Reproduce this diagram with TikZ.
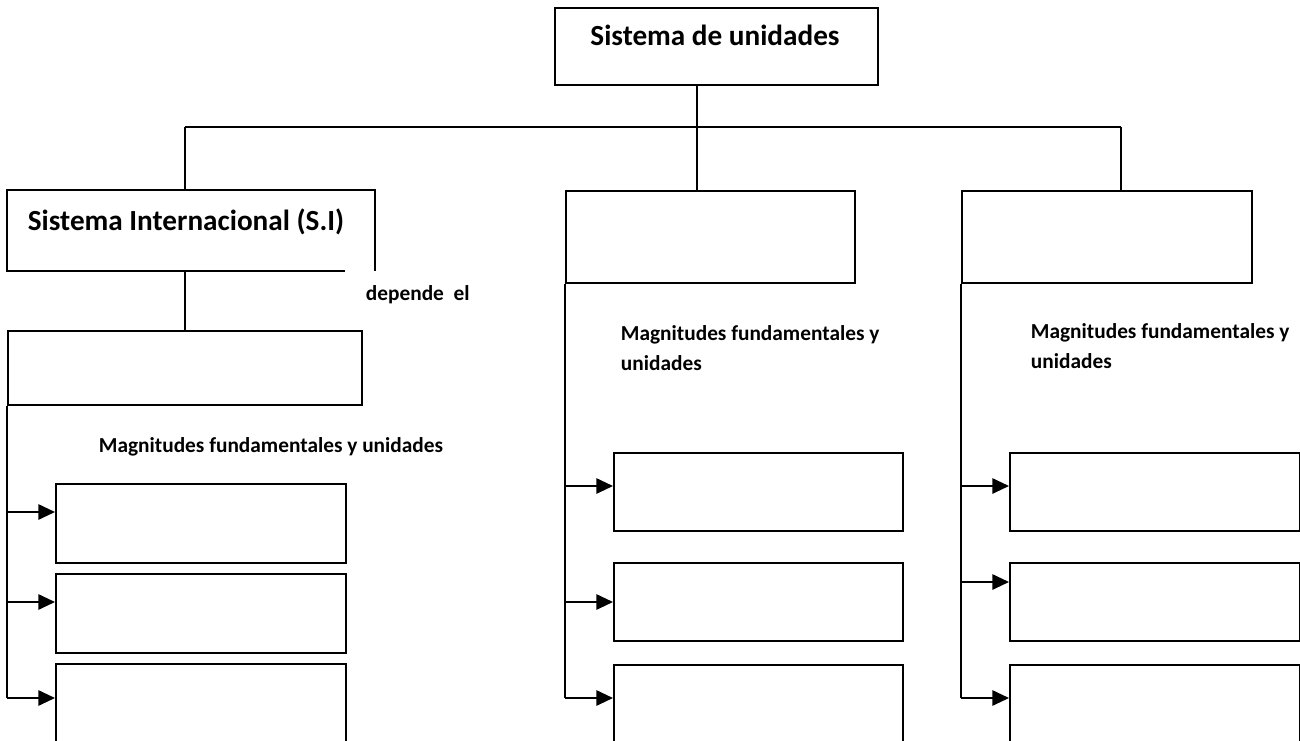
\documentclass[tikz,border=0pt]{standalone}
\usepackage{fontspec}
\setmainfont{Carlito}
\usetikzlibrary{arrows.meta}

\begin{document}
\begin{tikzpicture}
  [x=0.75pt,y=-0.75pt,line width=1.4pt,
   caja/.style 2 args={draw,rectangle,anchor=north west,inner sep=0pt,
     minimum width=#1*0.75pt,minimum height=#2*0.75pt},
   titulo/.style={font=\bfseries\fontsize{21.9}{26}\selectfont,inner sep=0pt},
   texto/.style={font=\bfseries\fontsize{16}{22.5}\selectfont,inner sep=0pt,align=left},
   flecha/.style={-{Triangle[length=12.5pt,width=11.5pt]}}]
  \useasboundingbox (0,0) rectangle (1300,740);
  \clip (0,0) rectangle (1300,740);

  % cajas
  \node[caja={323}{77}] (sistema) at (554,7) {};
  \node[caja={366}{79},draw=none] (si) at (7,190) {};
  \node[caja={354}{74}] (dep) at (7,330) {};
  \node[caja={289}{92}] (centro) at (565,190) {};
  \node[caja={290}{92}] (derecha) at (961,190) {};

  \node[caja={290}{79}] (s1) at (55,483) {};
  \node[caja={290}{79}] (s2) at (55,573) {};
  \node[caja={290}{100}] (s3) at (55,663) {};
  \node[caja={289}{78}] (c1) at (613,452) {};
  \node[caja={289}{78}] (c2) at (613,562) {};
  \node[caja={289}{100}] (c3) at (613,664) {};
  \node[caja={290}{78}] (d1) at (1009,452) {};
  \node[caja={290}{78}] (d2) at (1009,562) {};
  \node[caja={290}{100}] (d3) at (1009,664) {};

  % textos
  \node[titulo,anchor=base] (tsistema) at (715,45) {Sistema de unidades};
  \node[titulo,anchor=base] (tsi) at (186,230) {Sistema Internacional (S.I)};
  \node[texto,anchor=base west] (depende) at (365,300) {depende~~el};
  \node[texto,anchor=base west] (magsi) at (98,452) {Magnitudes fundamentales y unidades};
  \node[texto,anchor=base west] (magc) at (620,370) {Magnitudes fundamentales y\\unidades};
  \node[texto,anchor=base west] (magd) at (1030,368) {Magnitudes fundamentales y\\unidades};

  \draw ([xshift=-22.5pt]si.south east) -- (si.south west) -- (si.north west)
    -- (si.north east) -- (si.south east);

  % conectores
  \coordinate (bus) at (697,127);
  \coordinate (busL) at (185,127);
  \coordinate (busR) at (1121,127);
  \draw (sistema.south -| bus) -- (bus);
  \draw (busL) -- (busR);
  \draw (busL) -- (busL |- si.north);
  \draw (bus) -- (bus |- centro.north);
  \draw (busR) -- (busR |- derecha.north);
  \draw (busL |- si.south) -- (busL |- dep.north);

  \draw (dep.south west) -- (dep.west |- 0,698);
  \draw (centro.south west) -- (centro.west |- 0,698);
  \draw (derecha.south west) -- (derecha.west |- 0,698);

  \foreach \c/\y in {s1/512, s2/602, s3/698}
    \draw[flecha] (dep.west |- 0,\y) -- (\c.west |- 0,\y);
  \foreach \c/\y in {c1/486, c2/602, c3/698}
    \draw[flecha] (centro.west |- 0,\y) -- (\c.west |- 0,\y);
  \foreach \c/\y in {d1/486, d2/582, d3/698}
    \draw[flecha] (derecha.west |- 0,\y) -- (\c.west |- 0,\y);

\end{tikzpicture}
\end{document}
